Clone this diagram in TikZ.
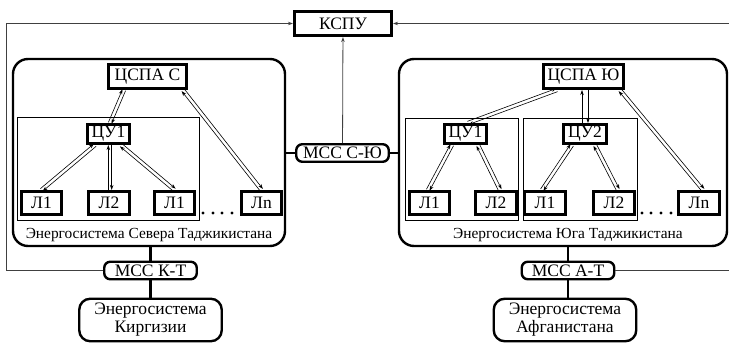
\documentclass[tikz,border=0pt]{standalone}
\usepackage{fontspec}
\setmainfont{Liberation Serif}
\usetikzlibrary{arrows.meta,calc}

% two opposite arrows side by side
\newcommand{\twoway}[5][1.7pt]{%
  \coordinate (tw1) at ([xshift=#3]#2);
  \coordinate (tw2) at ([xshift=#5]#4);
  \draw[duplex] ($(tw1)!#1!90:(tw2)$) -- ($(tw2)!#1!-90:(tw1)$);
  \draw[duplex] ($(tw2)!#1!90:(tw1)$) -- ($(tw1)!#1!-90:(tw2)$);}

\begin{document}
\begin{tikzpicture}[x=1pt, y=-1pt,
    every node/.style={font=\fontsize{17.5}{18}\selectfont},
    unit/.style={draw, line width=2.6pt, inner sep=0pt, minimum height=24.5pt},
    leaf/.style={unit, minimum width=40.5pt, minimum height=23.5pt},
    mss/.style={draw, line width=2.4pt, rounded corners=6pt, inner sep=0pt,
                minimum width=92.5pt, minimum height=17.5pt},
    foreign/.style={draw, line width=2.4pt, rounded corners=11pt, align=center,
                    inner sep=0pt, minimum width=142.5pt, minimum height=42.5pt},
    region/.style={draw, line width=2.4pt, rounded corners=15pt, inner sep=0pt},
    caption/.style={font=\fontsize{15.4}{17}\selectfont},
    group/.style={draw, line width=0.7pt},
    link/.style={line width=2.4pt},
    duplex/.style={line width=0.6pt, -{Stealth[length=5pt,width=3.5pt]}},
    feed/.style={line width=0.8pt, draw=black!75, -{Stealth[length=5pt,width=3.5pt]}}]
  \useasboundingbox (0,0) rectangle (729,344);

  % regions
  \node[region, minimum width=272pt, minimum height=187pt] (regN) at (149,152.5) {};
  \node[region, minimum width=328pt, minimum height=187pt] (regS) at (563,152.5) {};
  \draw[group] (17,117) rectangle (199,220);
  \draw[group] (405,118) rectangle (518,220);
  \draw[group] (523,118) rectangle (637,220);
  \node[caption] (capN) at (149,235.5) {Энергосистема Севера Таджикистана};
  \node[caption] (capS) at (568,235.5) {Энергосистема Юга Таджикистана};

  \node[unit, minimum width=97.5pt] (kspu) at (343,23.5) {КСПУ};

  % north
  \node[unit, minimum width=78.5pt] (cspaS) at (147.5,76.5) {ЦСПА С};
  \node[unit, minimum width=42.5pt, minimum height=19.5pt] (cuS) at (108.5,134) {ЦУ1};
  \node[leaf] (lS1) at (41.5,203) {Л1};
  \node[leaf] (lS2) at (109,203) {Л2};
  \node[leaf] (lS3) at (174.5,203) {Л1};
  \node[leaf] (lSn) at (261.5,203) {Лn};

  % south
  \node[unit, minimum width=80.5pt] (cspaJ) at (583.5,76.5) {ЦСПА Ю};
  \node[unit, minimum width=42.5pt, minimum height=19.5pt] (cuJ1) at (465.5,134) {ЦУ1};
  \node[unit, minimum width=42.5pt, minimum height=19.5pt] (cuJ2) at (585,134) {ЦУ2};
  \node[leaf] (lJ1) at (429.5,203) {Л1};
  \node[leaf] (lJ2) at (496,203) {Л2};
  \node[leaf] (lJ3) at (545,203) {Л1};
  \node[leaf] (lJ4) at (614,203) {Л2};
  \node[leaf] (lJn) at (699,203) {Лn};

  \foreach \x in {203,213,222,232} \fill (\x,213) circle (1.6pt);
  \foreach \x in {642,651,661,671} \fill (\x,213) circle (1.6pt);

  % ties
  \node[mss] (mccSJ) at (342.5,153) {МСС С-Ю};
  \node[mss] (mccKT) at (150.5,270.5) {МСС К-Т};
  \node[mss] (mccAT) at (568,270.5) {МСС А-Т};
  \node[foreign] (enKG) at (150.5,320) {Энергосистема\\Киргизии};
  \node[foreign] (enAF) at (565,320) {Энергосистема\\Афганистана};

  \draw[link] (regN.east |- mccSJ) -- (mccSJ.west);
  \draw[link] (mccSJ.east) -- (regS.west |- mccSJ);
  \draw[link] (mccKT |- regN.south) -- (mccKT) -- (mccKT |- enKG.north);
  \draw[link] (mccAT |- regS.south) -- (mccAT) -- (mccAT |- enAF.north);

  \coordinate (railW) at (6,0);
  \coordinate (railE) at (731,0);
  \draw[feed] (mccKT.west) -| (railW |- kspu.west) -- (kspu.west);
  \draw[feed] (mccAT.east) -| (railE |- kspu.east) -- (kspu.east);
  \draw[feed] (mccSJ) -- (kspu);

  % control links
  \twoway{cspaS.south}{-23.5}{cuS.north}{1.5}
  \twoway{cspaS.south}{35.5}{lSn.north}{0}
  \twoway{cuS.south}{-13.5}{lS1.north}{0}
  \twoway{cuS.south}{1.5}{lS2.north}{1}
  \twoway{cuS.south}{12.5}{lS3.north}{0}
  \twoway{cspaJ.south}{-26.5}{cuJ1.north}{2.5}
  \twoway[3pt]{cspaJ.south}{1.5}{cuJ2.north}{0}
  \twoway{cspaJ.south}{36.5}{lJn.north}{4}
  \twoway{cuJ1.south}{-13.5}{lJ1.north}{-1.5}
  \twoway{cuJ1.south}{12.5}{lJ2.north}{4}
  \twoway{cuJ2.south}{-13}{lJ3.north}{-3}
  \twoway{cuJ2.south}{10}{lJ4.north}{4}
\end{tikzpicture}
\end{document}
